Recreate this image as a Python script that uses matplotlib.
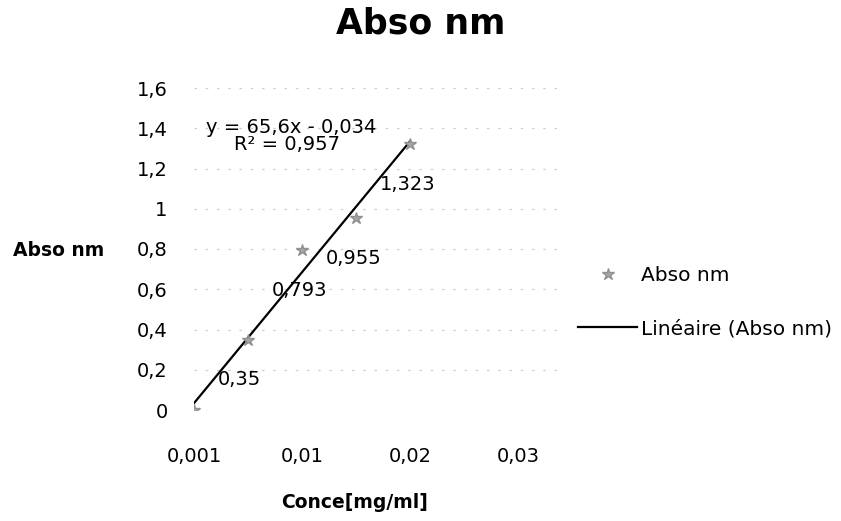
from matplotlib.pyplot import subplots, close
import numpy as n

## data
conc = [0.0, 0.005, 0.01, 0.015, 0.02]
abso = [0.0, 0.35, 0.793, 0.955, 1.323]
pt_lab = ['0,35', '0,793', '0,955', '1,323']

x_tick = [0.0, 0.01, 0.02, 0.03]
x_tick_lab = ['0,001', '0,01', '0,02', '0,03']
y_tick = [0.0, 0.2, 0.4, 0.6, 0.8, 1.0, 1.2, 1.4, 1.6]
y_tick_lab = ['0', '0,2', '0,4', '0,6', '0,8', '1', '1,2', '1,4', '1,6']

eq_txt = 'y = 65,6x - 0,034'
r2_txt = 'R² = 0,957'

## parameter
fs = 14.
W, H = 841, 521

fig, ax = subplots(figsize=(W/100., H/100.), dpi=100.)
ax.set_position([194/W, 1-410/H, 367/W, 322/H])

## points and linear trend
ax.plot(conc, abso, ls='none', marker='*', ms=9, color='#a5a5a5', mec='#909090', label='Abso nm', zorder=3)

cf = n.polyfit(conc, abso, 1)
xx = n.array([min(conc), max(conc)])
ax.plot(xx, n.polyval(cf, xx), color='k', lw=1.6, label='Linéaire (Abso nm)', zorder=2)

## point labels (below left of each point, like the scan)
for _x, _y, _l in zip(conc[1:], abso[1:], pt_lab):
	ax.annotate(_l, (_x, _y), xytext=(-21.5, -29), textcoords='offset points',
				ha='left', va='center', fontsize=fs)

ax.text(0.0090, 1.406, eq_txt, ha='center', va='center', fontsize=14.)
ax.text(0.0086, 1.317, r2_txt, ha='center', va='center', fontsize=14.)

## axes setting
ax.set(xlim=(0., 0.034), ylim=(0., 1.6), xticks=x_tick, yticks=y_tick)
ax.set_xticklabels(x_tick_lab)
ax.set_yticklabels(y_tick_lab)
ax.tick_params(axis='y', length=0, pad=19, labelsize=fs)
ax.tick_params(axis='x', length=0, pad=27, labelsize=fs)
for sp in ax.spines.values():
	sp.set_visible(False)
ax.yaxis.grid(True, color='#cfcfcf', lw=0.9, ls=(0, (2, 7)))
ax.set_axisbelow(True)

## titles
fig.text(0.5, 1-24/H, 'Abso nm', ha='center', va='center', fontsize=25, fontweight='bold')
fig.text(13/W, 1-250/H, 'Abso nm', ha='left', va='center', fontsize=13.5, fontweight='bold')
fig.text(355/W, 1-503/H, 'Conce[mg/ml]', ha='center', va='center', fontsize=13.5, fontweight='bold')

fig.legend(loc='center left', bbox_to_anchor=(578/W, 1-302/H), frameon=False, fontsize=14.5,
		   borderpad=0, borderaxespad=0, handlelength=2.95, handletextpad=0.2, labelspacing=1.7)

fig.savefig('out.png', dpi=100.)
close()
